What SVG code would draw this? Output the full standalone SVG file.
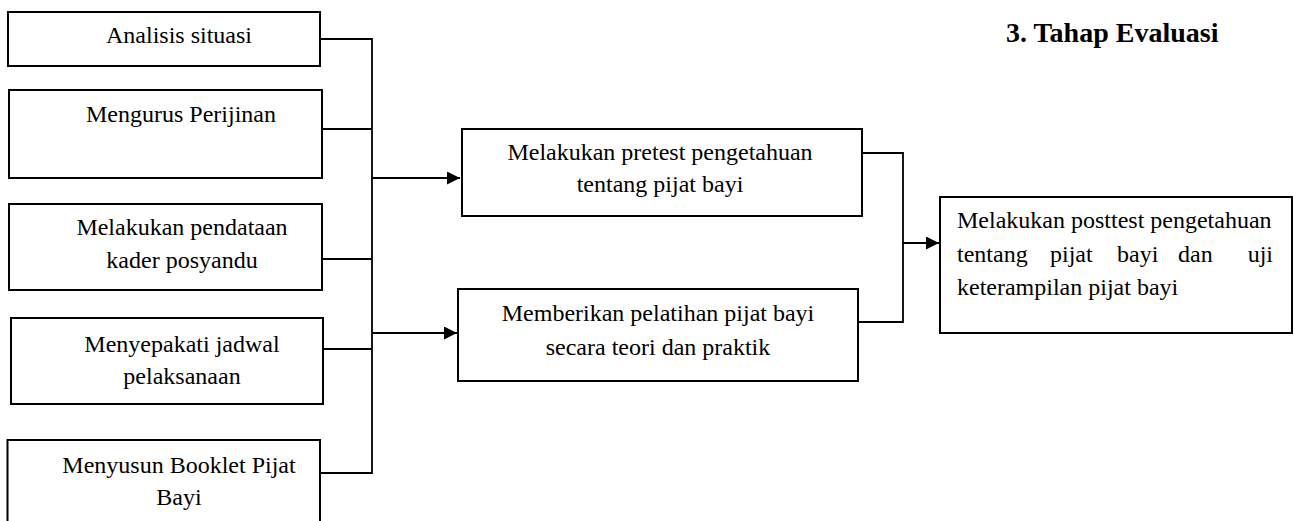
<svg xmlns="http://www.w3.org/2000/svg" width="1293" height="521" viewBox="0 0 1293 521">
<defs>
<marker id="arr" markerUnits="userSpaceOnUse" markerWidth="14" markerHeight="13" refX="13" refY="6.5" orient="auto">
<path d="M0,0 L13,6.5 L0,13 z" fill="#000"/>
</marker>
<style>
.box{fill:#fff;stroke:#000;stroke-width:2}
.t{font-family:"Liberation Serif","Times New Roman",serif;font-size:24px;fill:#000}
.c{text-anchor:middle}
.ln{fill:none;stroke:#000;stroke-width:1.8}
.title{font-family:"Liberation Serif","Times New Roman",serif;font-size:28px;font-weight:bold;fill:#000}
</style>
</defs>
<rect width="1293" height="521" fill="#fff"/>
<text class="title" x="1006" y="42">3. Tahap Evaluasi</text>
<g id="connectors">
<path class="ln" d="M321,39 H372 V473 H321"/>
<path class="ln" d="M322,129 H372"/>
<path class="ln" d="M322,259 H372"/>
<path class="ln" d="M323,349 H372"/>
<path class="ln" d="M372,178 H460" marker-end="url(#arr)"/>
<path class="ln" d="M372,333 H457" marker-end="url(#arr)"/>
<path class="ln" d="M862,153 H903 V322 H858"/>
<path class="ln" d="M903,243 H939" marker-end="url(#arr)"/>
</g>
<g id="n1">
<rect class="box" x="8" y="12" width="312" height="54"/>
<text class="t c" x="179" y="43">Analisis situasi</text>
</g>
<g id="n2">
<rect class="box" x="9" y="90" width="313" height="88"/>
<text class="t c" x="181" y="122">Mengurus Perijinan</text>
</g>
<g id="n3">
<rect class="box" x="9" y="204" width="313" height="86"/>
<text class="t c" x="182" y="235">Melakukan pendataan</text>
<text class="t c" x="182" y="268">kader posyandu</text>
</g>
<g id="n4">
<rect class="box" x="11" y="318" width="312" height="86"/>
<text class="t c" x="182" y="352">Menyepakati jadwal</text>
<text class="t c" x="182" y="384">pelaksanaan</text>
</g>
<g id="n5">
<rect class="box" x="7.5" y="440" width="312.5" height="100"/>
<text class="t c" x="179" y="473">Menyusun Booklet Pijat</text>
<text class="t c" x="179" y="505">Bayi</text>
</g>
<g id="n6">
<rect class="box" x="462" y="129" width="400" height="87"/>
<text class="t c" x="660" y="160">Melakukan pretest pengetahuan</text>
<text class="t c" x="660" y="192">tentang pijat bayi</text>
</g>
<g id="n7">
<rect class="box" x="458" y="289" width="400" height="92"/>
<text class="t c" x="658" y="321">Memberikan pelatihan pijat bayi</text>
<text class="t c" x="658" y="355">secara teori dan praktik</text>
</g>
<g id="n8">
<rect class="box" x="940" y="197" width="352" height="136"/>
<text class="t" x="957" y="228">Melakukan posttest pengetahuan</text>
<text class="t" x="957" y="262">tentang</text>
<text class="t" x="1050" y="262">pijat</text>
<text class="t" x="1117" y="262">bayi</text>
<text class="t" x="1178" y="262">dan</text>
<text class="t" x="1273" y="262" text-anchor="end">uji</text>
<text class="t" x="957" y="295">keterampilan pijat bayi</text>
</g>
</svg>
